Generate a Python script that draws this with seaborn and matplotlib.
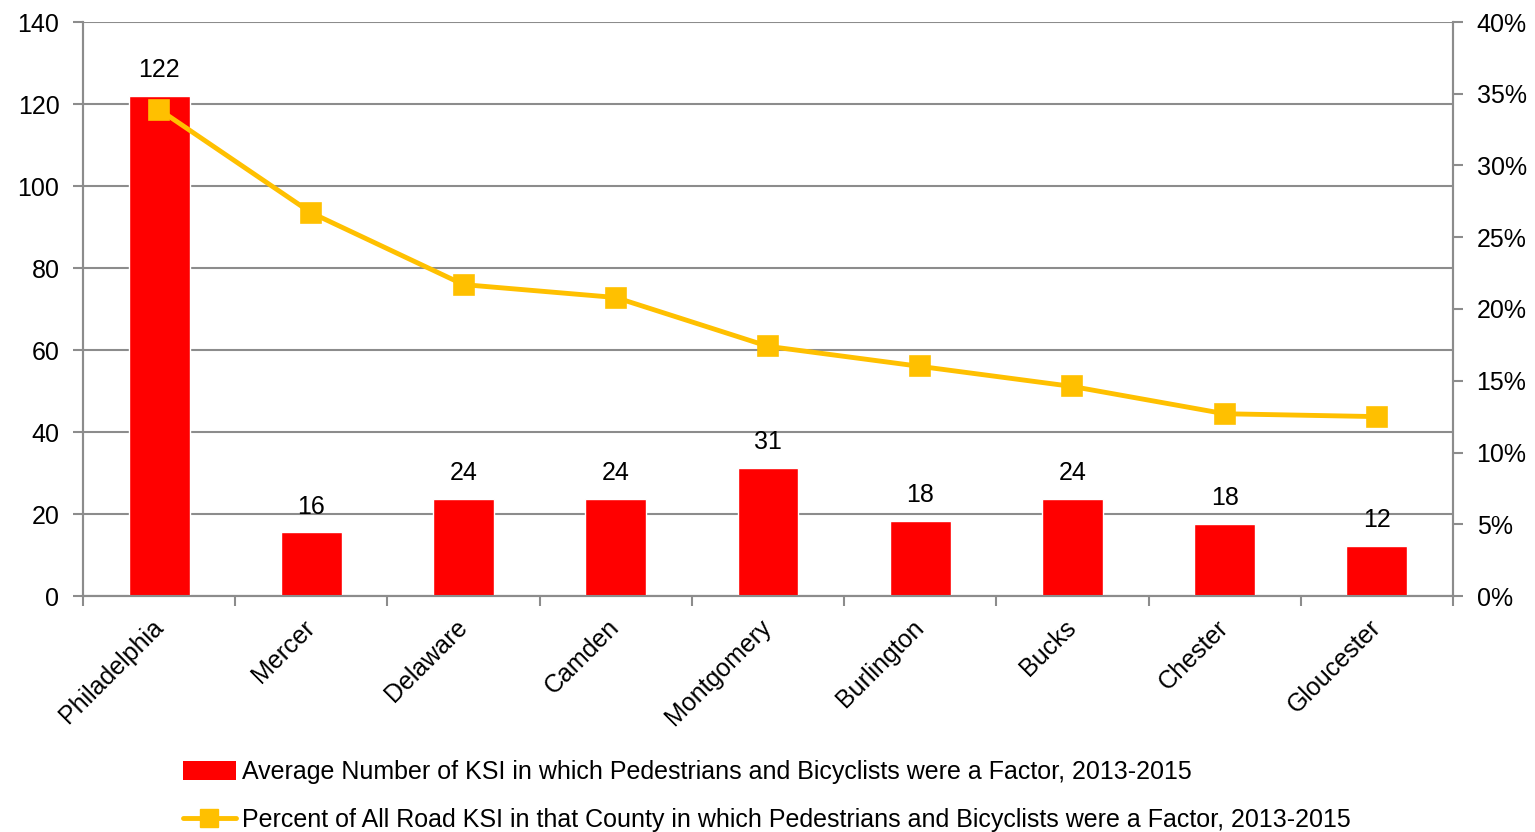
import matplotlib
matplotlib.use("Agg")
import matplotlib.pyplot as plt
import seaborn as sns
import pandas as pd
from matplotlib.patches import Patch
from matplotlib.lines import Line2D
from matplotlib.ticker import FuncFormatter, FixedLocator

# Data
counties = ["Philadelphia", "Mercer", "Delaware", "Camden", "Montgomery",
            "Burlington", "Bucks", "Chester", "Gloucester"]
avg_ksi = [122, 15.5, 23.7, 23.7, 31.2, 18.3, 23.7, 17.6, 12.2]
avg_labels = ["122", "16", "24", "24", "31", "18", "24", "18", "12"]
pct_ksi = [33.9, 26.7, 21.7, 20.8, 17.4, 16.0, 14.6, 12.7, 12.5]

bar_name = "Average Number of KSI in which Pedestrians and Bicyclists were a Factor, 2013-2015"
line_name = "Percent of All Road KSI in that County in which Pedestrians and Bicyclists were a Factor, 2013-2015"

df = pd.DataFrame({"County": counties, "KSI": avg_ksi, "Pct": pct_ksi})

sns.set_style("white")
plt.rcParams['font.family'] = ['Liberation Sans', 'DejaVu Sans']
plt.rcParams['font.size'] = 18
plt.rcParams['text.color'] = 'black'
plt.rcParams['xtick.labelcolor'] = 'black'
plt.rcParams['ytick.labelcolor'] = 'black'

fs = 18
grid_col = "#8c8c8c"
red = "#ff0000"
gold = "#ffc000"

fig = plt.figure(figsize=(15.35, 8.32), dpi=100)
ax = fig.add_axes([83/1535, 1-596/832, (1453-83)/1535, (596-22)/832])

# Bars
sns.barplot(data=df, x="County", y="KSI", order=counties, color=red,
            saturation=1, width=0.4, ax=ax, zorder=3)
ax.bar_label(ax.containers[0], labels=avg_labels, padding=10, fontsize=fs,
             color="black")

ax.set_ylim(0, 140)
ax.set_yticks(range(0, 141, 20))
ax.set_xlim(-0.5, len(counties) - 0.5)
ax.set_xlabel("")
ax.set_ylabel("")
ax.grid(axis="y", color=grid_col, linewidth=1.5, zorder=0)
ax.set_axisbelow(True)

# Line on secondary axis
ax2 = ax.twinx()
sns.pointplot(data=df, x="County", y="Pct", order=counties, color=gold,
              markers="s", linestyles="-", markersize=12.5, linewidth=3.5,
              ax=ax2)
ax2.set_ylim(0, 40)
ax2.set_yticks(range(0, 41, 5))
ax2.yaxis.set_major_formatter(FuncFormatter(lambda v, p: f"{int(v)}%"))
ax2.set_ylabel("")
ax2.set_xlim(-0.5, len(counties) - 0.5)

for a in (ax, ax2):
    for s in a.spines.values():
        s.set_visible(False)
    for s in ("left", "right", "bottom"):
        a.spines[s].set_visible(True)
        a.spines[s].set_color(grid_col)
        a.spines[s].set_linewidth(1.5)

ax.tick_params(axis="y", which="major", direction="out", length=7, width=1.5,
               color=grid_col, pad=10, labelsize=fs, left=True)
ax2.tick_params(axis="y", which="major", direction="out", length=7, width=1.5,
                color=grid_col, pad=10, labelsize=fs, right=True)

# x ticks: labels at centres, tick marks at boundaries
ax.set_xticks(range(len(counties)))
ax.set_xticklabels(counties, rotation=45, ha="right", va="center",
                   rotation_mode="anchor")
ax.tick_params(axis="x", which="major", length=0, pad=20, labelsize=fs)
ax.xaxis.set_minor_locator(FixedLocator([i - 0.5 for i in range(len(counties) + 1)]))
ax.tick_params(axis="x", which="minor", direction="out", length=7, width=1.5,
               color=grid_col, bottom=True)

# Legend
handles = [Patch(facecolor=red, edgecolor="none"),
           Line2D([0], [0], color=gold, linewidth=3.5, marker="s", markersize=12.5)]
fig.legend(handles, [bar_name, line_name], loc="upper left",
           bbox_to_anchor=(183/1535, 1-760/832), frameon=False, fontsize=fs,
           handlelength=2.1, handleheight=0.8, handletextpad=0.25,
           labelspacing=0.95, borderaxespad=0, borderpad=0)

fig.savefig("out.png", dpi=100)
